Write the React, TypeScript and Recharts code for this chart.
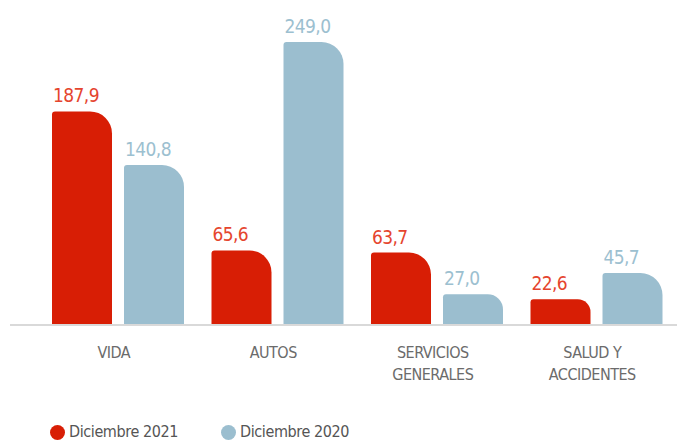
import { BarChart, Bar, XAxis, YAxis, Legend, LabelList } from "recharts";

const categories = ["VIDA", "AUTOS", "SERVICIOS\nGENERALES", "SALUD Y\nACCIDENTES"];
const dic2021 = [187.9, 65.6, 63.7, 22.6];
const dic2020 = [140.8, 249.0, 27.0, 45.7];
const seriesNames = ["Diciembre 2021", "Diciembre 2020"];

const RED = "#d81e05";
const BLUE = "#9bbecf";
const RED_TEXT = "#e5452e";
const BLUE_TEXT = "#9cc0d0";
const FONT = "'Liberation Sans Narrow', 'DejaVu Sans Condensed', 'Roboto', sans-serif";

const data = categories.map((name, i) => ({
  name,
  d2021: dic2021[i],
  d2020: dic2020[i],
}));

const fmt = (v: number) => v.toFixed(1).replace(".", ",");

function ValueLabel(color: string) {
  return (props: any) => {
    const { x, y, value } = props;
    return (
      <text x={x + 1} y={y - 9} fill={color} fontSize={19} fontFamily={FONT} textAnchor="start" letterSpacing={-0.6}>
        {fmt(value)}
      </text>
    );
  };
}

function CategoryTick(props: any) {
  const { x, y, payload } = props;
  const lines = String(payload.value).split("\n");
  return (
    <g>
      {lines.map((line, i) => (
        <text
          key={i}
          x={x - 4}
          y={y + 25 + i * 22}
          textAnchor="middle"
          fill="#6b6b6b"
          fontSize={16}
          fontFamily={FONT}
          letterSpacing={-0.5}
        >
          {line}
        </text>
      ))}
    </g>
  );
}

function LegendContent() {
  const items = [
    { label: seriesNames[0], color: RED },
    { label: seriesNames[1], color: BLUE },
  ];
  return (
    <div style={{ height: 57, display: "flex", alignItems: "flex-end", paddingLeft: 40, paddingBottom: 2, boxSizing: "border-box" }}>
      {items.map((it) => (
        <div key={it.label} style={{ display: "flex", alignItems: "center", marginRight: 43, lineHeight: "18px" }}>
          <span
            style={{
              width: 15,
              height: 15,
              borderRadius: "50%",
              background: it.color,
              display: "inline-block",
              marginRight: 4,
            }}
          />
          <span style={{ fontFamily: FONT, fontSize: 16, color: "#555", letterSpacing: -0.4 }}>{it.label}</span>
        </div>
      ))}
    </div>
  );
}

export default function App() {
  return (
    <div style={{ position: "absolute", left: 0, top: 0, background: "#fff" }}>
      <BarChart
        width={677}
        height={443}
        data={data}
        margin={{ top: 42, right: 0, left: 10, bottom: 0 }}
        barSize={60}
        barGap={12}
      >
        <XAxis
          dataKey="name"
          height={61}
          padding={{ left: 28, right: 1 }}
          axisLine={{ stroke: "#d9d9d9", strokeWidth: 2 }}
          tickLine={false}
          tick={<CategoryTick />}
          interval={0}
        />
        <YAxis hide domain={[0, 249]} />
        <Legend verticalAlign="bottom" content={<LegendContent />} />
        <Bar dataKey="d2021" name={seriesNames[0]} fill={RED} radius={[3, 22, 0, 0]} isAnimationActive={false}>
          <LabelList dataKey="d2021" content={ValueLabel(RED_TEXT)} />
        </Bar>
        <Bar dataKey="d2020" name={seriesNames[1]} fill={BLUE} radius={[3, 22, 0, 0]} isAnimationActive={false}>
          <LabelList dataKey="d2020" content={ValueLabel(BLUE_TEXT)} />
        </Bar>
      </BarChart>
    </div>
  );
}
